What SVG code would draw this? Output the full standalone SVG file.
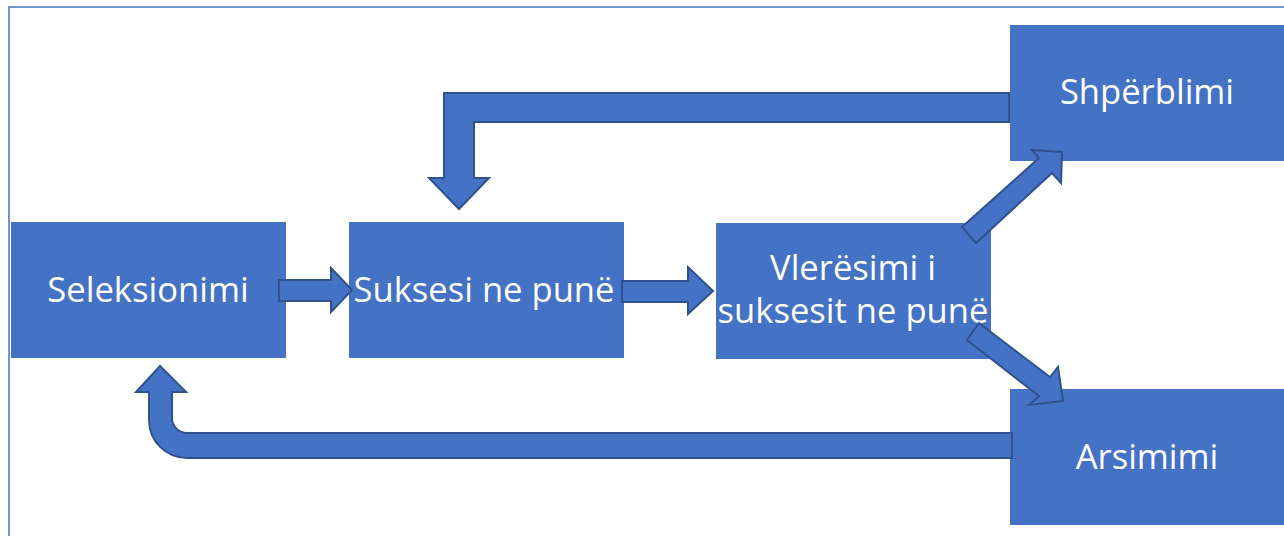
<svg xmlns="http://www.w3.org/2000/svg" width="1284" height="536" viewBox="0 0 1284 536">
  <style>
    .frame { fill: none; stroke: #4472C4; stroke-width: 1.5; }
    .box { fill: #4472C4; }
    .label { font-family: "Open Sans", "Noto Sans", "Liberation Sans", sans-serif; font-size: 34.6px; fill: #FFFFFF; text-anchor: middle; }
    .arrow { fill: #4472C4; stroke: #2F528F; stroke-width: 2; stroke-linejoin: miter; }
  </style>

  <rect x="0" y="0" width="1284" height="536" fill="#FFFFFF"/>
  <!-- outer frame (top and left edges visible) -->
  <path class="frame" d="M9,536 L9,7 L1284,7"/>

  <g id="seleksionimi">
    <rect class="box" x="11" y="222" width="275" height="136"/>
    <text class="label" x="148" y="302">Seleksionimi</text>
  </g>

  <g id="suksesi">
    <rect class="box" x="349" y="222" width="275" height="136"/>
    <text class="label" x="484" y="302">Suksesi ne punë</text>
  </g>

  <g id="vleresimi">
    <rect class="box" x="716" y="223" width="275" height="136"/>
    <text class="label"><tspan x="853" y="280">Vlerësimi i</tspan><tspan x="853" y="323">suksesit ne punë</tspan></text>
  </g>

  <g id="shperblimi">
    <rect class="box" x="1010" y="25" width="274" height="136"/>
    <text class="label" x="1147" y="104">Shpërblimi</text>
  </g>

  <g id="arsimimi">
    <rect class="box" x="1010" y="389" width="274" height="136"/>
    <text class="label" x="1147" y="469">Arsimimi</text>
  </g>

  <g id="connectors">
    <!-- Seleksionimi -> Suksesi ne punë -->
    <path class="arrow" d="M279,280 L331,280 L331,268 L352,290 L331,312 L331,301 L279,301 Z"/>
    <!-- Suksesi ne punë -> Vlerësimi -->
    <path class="arrow" d="M622,281 L688,281 L688,267 L713,291 L688,314 L688,302 L622,302 Z"/>
    <!-- Shpërblimi -> Suksesi ne punë (bent) -->
    <path class="arrow" d="M1009,93 L444,93 L444,178 L429,178 L459,209 L489,178 L474,178 L474,122 L1009,122 Z"/>
    <!-- Vlerësimi -> Shpërblimi -->
    <path class="arrow" d="M962,227 L1039,158 L1032,150 L1062,152 L1061,183 L1052,173 L976,243 Z"/>
    <!-- Vlerësimi -> Arsimimi -->
    <path class="arrow" d="M979,323 L1050,377 L1058,367 L1063,401 L1029,405 L1039,396 L967,340 Z"/>
    <!-- Arsimimi -> Seleksionimi (U-turn) -->
    <path class="arrow" d="M1012,433 L187,433 A15,15 0 0 1 172,418 L172,392 L186,392 L160,366 L136,392 L149,392 L149,420 A38,38 0 0 0 187,458 L1012,458 Z"/>
  </g>
</svg>
